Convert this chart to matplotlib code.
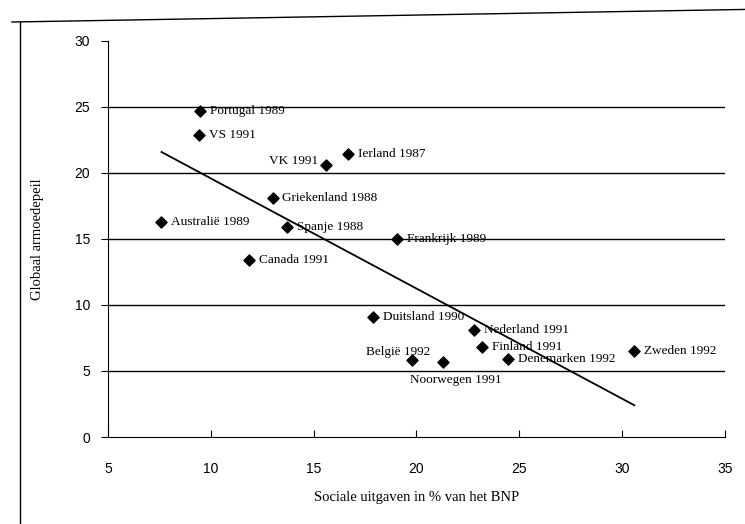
import matplotlib
matplotlib.use("Agg")
import matplotlib.pyplot as plt
from matplotlib.lines import Line2D
import numpy as np

# data
landen = ["Portugal 1989", "VS 1991", "VK 1991", "Ierland 1987", "Griekenland 1988",
          "Australië 1989", "Spanje 1988", "Frankrijk 1989", "Canada 1991",
          "Duitsland 1990", "Nederland 1991", "Finland 1991", "België 1992",
          "Noorwegen 1991", "Denemarken 1992", "Zweden 1992"]
uitgaven = [9.47, 9.42, 15.6, 16.67, 13.0, 7.6, 13.7, 19.05, 11.85,
            17.9, 22.8, 23.2, 19.8, 21.3, 24.45, 30.6]
armoede = [24.7, 22.9, 20.6, 21.45, 18.1, 16.3, 15.9, 15.0, 13.4,
           9.1, 8.1, 6.8, 5.8, 5.7, 5.9, 6.5]

x_ticks = [5, 10, 15, 20, 25, 30, 35]
y_ticks = [0, 5, 10, 15, 20, 25, 30]

# label offsets in points (dx, dy, ha)
offsets = {
    "VK 1991": (-6, 3, "right"),
    "België 1992": (13, 6, "right"),
    "Noorwegen 1991": (9, -13, "center"),
}

fig = plt.figure(figsize=(7.45, 5.24), dpi=100)
ax = fig.add_axes([0.145, 0.166, 0.828, 0.756])

for y in y_ticks[1:-1]:
    ax.axhline(y, color="black", lw=1.0, zorder=1)

x = np.array(uitgaven)
y = np.array(armoede)
a, b = np.polyfit(x, y, 1)
xl = np.array([x.min(), x.max()])
ax.plot(xl, a * xl + b, color="black", lw=1.3, zorder=2)

ax.scatter(x, y, marker="D", s=32, color="black", zorder=3)

for naam, xi, yi in zip(landen, uitgaven, armoede):
    dx, dy, ha = offsets.get(naam, (7, 0, "left"))
    ax.annotate(naam, (xi, yi), xytext=(dx, dy), textcoords="offset points",
                ha=ha, va="center", fontsize=9.5, family="Liberation Serif")

ax.set_xlim(5, 35)
ax.set_ylim(0, 30)
ax.set_xticks(x_ticks)
ax.set_yticks(y_ticks)
ax.spines["top"].set_visible(False)
ax.spines["right"].set_visible(False)
ax.tick_params(axis="x", direction="in", length=5, pad=18, labelsize=10)
ax.tick_params(axis="y", direction="out", length=5, pad=8, labelsize=10)
for lab in ax.get_xticklabels() + ax.get_yticklabels():
    lab.set_family("Liberation Sans")

ax.set_xlabel("Sociale uitgaven in % van het BNP", family="Liberation Serif",
              fontsize=10.5, labelpad=11)
ax.set_ylabel("Globaal armoedepeil", family="Liberation Serif",
              fontsize=10.5, labelpad=22)

# page border from the scan
fig.add_artist(Line2D([0.027, 0.027], [0.0, 0.958], color="black", lw=1.0))
fig.add_artist(Line2D([0.016, 1.0], [0.958, 0.982], color="black", lw=1.0))

fig.savefig("out.png", dpi=100)
